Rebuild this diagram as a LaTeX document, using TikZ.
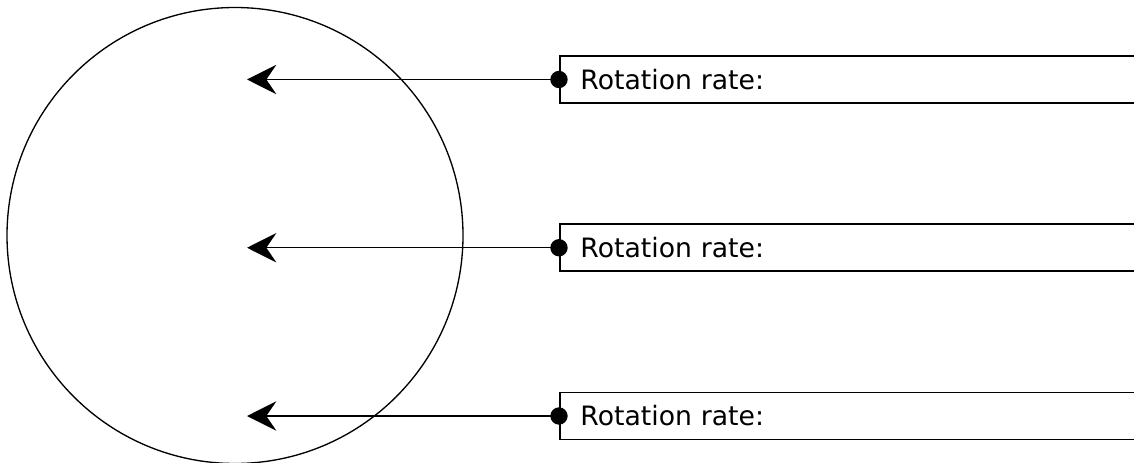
\documentclass[tikz,border=0pt]{standalone}
\usepackage{fontspec}
\setmainfont{DejaVu Sans}
\usetikzlibrary{arrows.meta}
\usetikzlibrary{positioning}

\tikzset{
    ratebox/.style={draw,line width=1.2pt,rectangle,anchor=west,minimum height=35.25pt,
        text width=430pt,align=left,inner xsep=15.5pt,font=\fontsize{20pt}{24pt}\selectfont},
    ratearrow/.style={line width=1.1pt,-{Stealth[length=22pt,width=22pt,inset=7.5pt]}}
}

\begin{document}
\begin{tikzpicture}[x=0.75pt,y=-0.75pt]
\clip (0,0) rectangle (1134,463);
\def\rs{168.25}

\node[draw,circle,line width=1pt,minimum size=342pt,inner sep=0pt] (disc) at (235,235.5) {};

\node[ratebox] (rate1) at (559,79.5) {Rotation rate:};
\node[ratebox] (rate2) at (559,79.5+\rs) {Rotation rate:};
\node[ratebox] (rate3) at (559,79.5+2*\rs) {Rotation rate:};

\coordinate (tip1) at (247,79.5);
\coordinate (tip2) at (247,79.5+\rs);
\coordinate (tip3) at (247,79.5+2*\rs);

\draw[ratearrow] (rate1.west) -- (tip1);
\draw[ratearrow] (rate2.west) -- (tip2);
\draw[ratearrow] (rate3.west) -- (tip3);

\fill (rate1.west) circle (6.5pt);
\fill (rate2.west) circle (6.5pt);
\fill (rate3.west) circle (6.5pt);
\end{tikzpicture}
\end{document}
